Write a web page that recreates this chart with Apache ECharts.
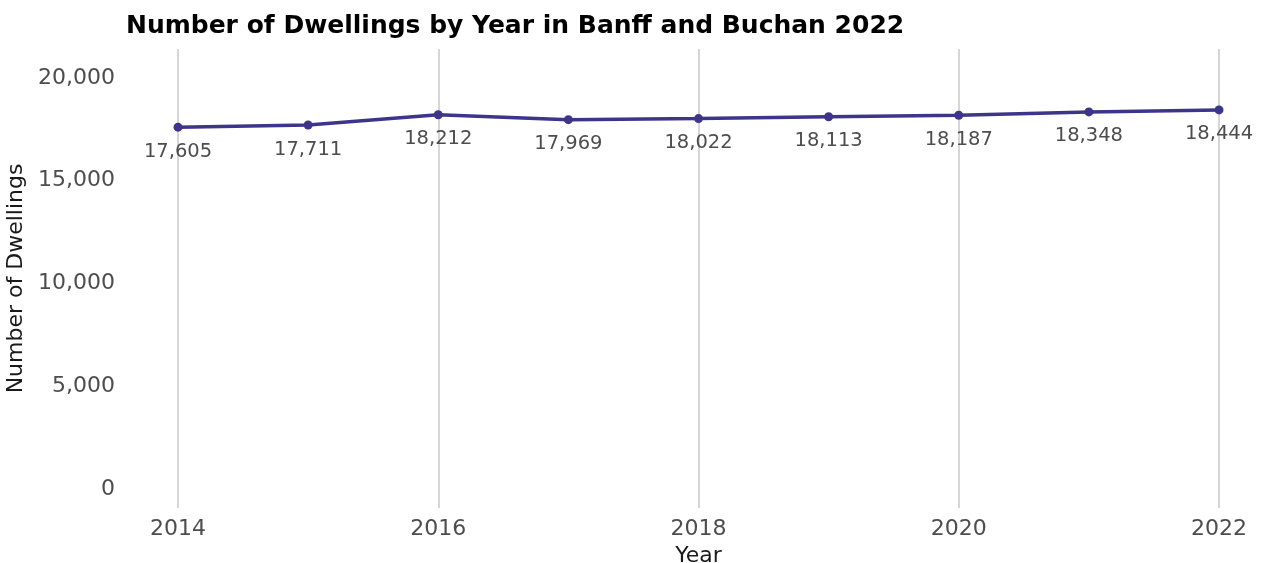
<!DOCTYPE html>
<html>
<head>
<meta charset="utf-8">
<script src="https://cdn.jsdelivr.net/npm/echarts@6/dist/echarts.min.js"></script>
<style>
html,body{margin:0;padding:0;background:#fff;}
#chart{width:1267px;height:563px;}
</style>
</head>
<body>
<div id="chart"></div>
<script>
const years = [2014, 2015, 2016, 2017, 2018, 2019, 2020, 2021, 2022];
const dwellings = [17605, 17711, 18212, 17969, 18022, 18113, 18187, 18348, 18444];
const titleText = 'Number of Dwellings by Year in Banff and Buchan 2022';
const xAxisTitle = 'Year';
const yAxisTitle = 'Number of Dwellings';

const chart = echarts.init(document.getElementById('chart'));
const font = 'DejaVu Sans';
chart.setOption({
  animation: false,
  backgroundColor: '#ffffff',
  title: {
    text: titleText,
    left: 121,
    top: 9,
    textStyle: {fontFamily: font, fontWeight: 'bold', fontSize: 25, color: '#000'}
  },
  grid: {left: 178, right: 48, top: 49, bottom: 55, containLabel: false, outerBoundsMode: 'none'},
  xAxis: {
    type: 'value',
    min: 2014, max: 2022, interval: 2,
    name: xAxisTitle,
    nameLocation: 'middle',
    nameGap: 35,
    nameTextStyle: {fontFamily: font, fontSize: 22, color: '#1a1a1a'},
    axisLine: {show: false},
    axisTick: {show: false},
    axisLabel: {fontFamily: font, fontSize: 22, color: '#4d4d4d', margin: 10, formatter: v => String(v)},
    splitLine: {show: true, lineStyle: {color: '#c8c8c8', width: 1.5}}
  },
  yAxis: {
    type: 'value',
    min: -922, max: 21408,
    splitNumber: 5,
    name: yAxisTitle,
    nameLocation: 'middle',
    nameGap: 146,
    nameTextStyle: {fontFamily: font, fontSize: 22, color: '#1a1a1a'},
    axisLine: {show: false},
    axisTick: {show: false},
    splitLine: {show: false},
    axisLabel: {
      fontFamily: font, fontSize: 22, color: '#4d4d4d', margin: 63,
      showMinLabel: false, showMaxLabel: false,
      formatter: v => (v < 0 || v > 20000 || v % 5000 !== 0) ? '' : v.toLocaleString('en-US')
    }
  },
  series: [{
    type: 'line',
    data: years.map((y, i) => [y, dwellings[i]]),
    symbol: 'circle',
    symbolSize: 9,
    lineStyle: {color: '#3d3589', width: 3.5},
    itemStyle: {color: '#3d3589'},
    label: {
      show: true,
      position: 'bottom',
      distance: 10,
      fontFamily: font,
      fontSize: 19.5,
      color: '#4d4d4d',
      formatter: p => p.value[1].toLocaleString('en-US')
    }
  }]
});
</script>
</body>
</html>
